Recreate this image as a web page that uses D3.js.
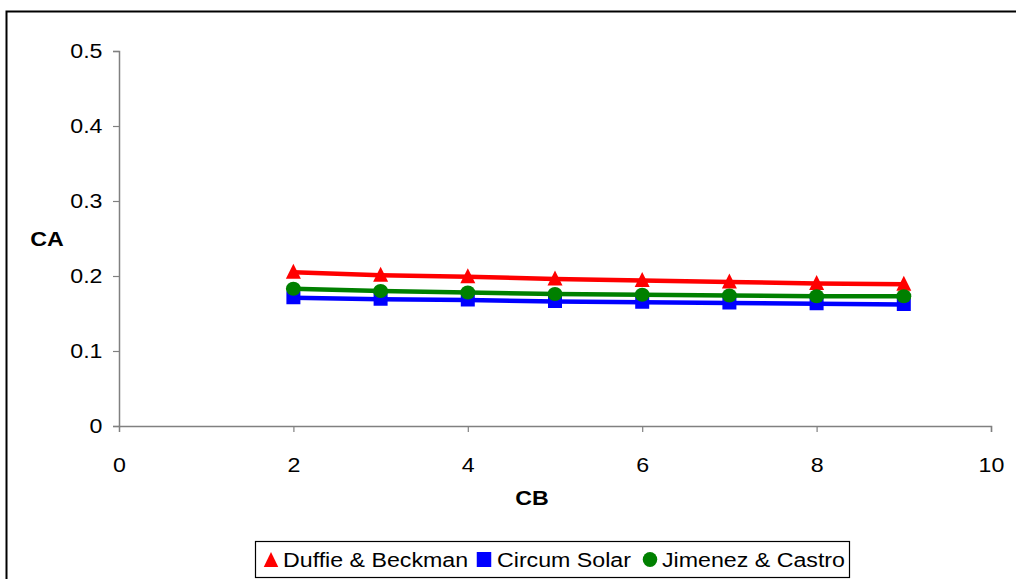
<!DOCTYPE html>
<html>
<head>
<meta charset="utf-8">
<script src="https://cdn.jsdelivr.net/npm/d3@7/dist/d3.min.js"></script>
<style>
  html, body { margin: 0; padding: 0; background: #fff; }
  svg { display: block; }
  text { font-family: "Liberation Sans", Arial, sans-serif; }
</style>
</head>
<body>
<svg id="chart" width="1016" height="579"></svg>
<script>
// Series values along CB = 2..9
const cbValues = [2, 3, 4, 5, 6, 7, 8, 9];
const duffieBeckman = [0.205, 0.201, 0.199, 0.196, 0.194, 0.192, 0.190, 0.189];
const circumSolar   = [0.171, 0.169, 0.168, 0.166, 0.165, 0.164, 0.163, 0.162];
const jimenezCastro = [0.183, 0.180, 0.178, 0.176, 0.175, 0.174, 0.173, 0.173];

const xTicks = [0, 2, 4, 6, 8, 10];
const yTicks = [0, 0.1, 0.2, 0.3, 0.4, 0.5];

const seriesNames = ["Duffie & Beckman", "Circum Solar", "Jimenez & Castro"];
const seriesColors = ["#ff0000", "#0000ff", "#008000"];
const seriesShapes = ["triangle", "square", "circle"];
const seriesValues = [duffieBeckman, circumSolar, jimenezCastro];

// the whole chart is drawn slightly wider than tall, text included
const stretch = 1.16;

const svg = d3.select("#chart");

// outer frame
svg.append("rect")
  .attr("x", 6.5).attr("y", 11.5)
  .attr("width", 1100).attr("height", 700)
  .attr("fill", "none").attr("stroke", "#000").attr("stroke-width", 2);

const plot = { left: 119, right: 991, top: 51, bottom: 426 };

const x = d3.scaleLinear().domain([0, 10]).range([plot.left, plot.right]);
const y = d3.scaleLinear().domain([0, 0.5]).range([plot.bottom, plot.top]);

// axes
const xAxis = svg.append("g")
  .attr("transform", `translate(0,${plot.bottom})`)
  .call(d3.axisBottom(x).tickValues(xTicks).tickFormat(d3.format("d")).tickSize(6).tickPadding(26));
const yAxis = svg.append("g")
  .attr("transform", `translate(${plot.left},0)`)
  .call(d3.axisLeft(y).tickValues(yTicks).tickFormat(d => d === 0 ? "0" : d3.format(".1f")(d)).tickSize(6).tickPadding(8));

[xAxis, yAxis].forEach(g => {
  g.select(".domain").attr("stroke", "#808080").attr("stroke-width", 1.5);
  g.selectAll(".tick line").attr("stroke", "#808080").attr("stroke-width", 1.2);
  g.selectAll(".tick text")
    .attr("fill", "#000")
    .style("font-family", "'Liberation Sans', Arial, sans-serif")
    .style("font-size", "20px");
});
xAxis.selectAll(".tick text").attr("transform", `scale(${stretch},1)`);
yAxis.selectAll(".tick text")
  .attr("x", -16.5 / stretch)
  .attr("transform", `scale(${stretch},1)`);
xAxis.selectAll(".tick").filter(d => d === 0).select("line").remove();

// axis titles
function stretchedText(parent, cx, cy, str, anchor, bold) {
  return parent.append("text")
    .attr("transform", `translate(${cx},${cy}) scale(${stretch},1)`)
    .attr("text-anchor", anchor)
    .style("font-size", "20px")
    .style("font-weight", bold ? "bold" : "normal")
    .text(str);
}
stretchedText(svg, 47, 246, "CA", "middle", true);
stretchedText(svg, 532, 505, "CB", "middle", true);

// marker outlines, width w and height h, centred on the point
function markerPath(shape, w, h) {
  const p = d3.path();
  if (shape === "triangle") {
    p.moveTo(0, -h / 2); p.lineTo(w / 2, h / 2); p.lineTo(-w / 2, h / 2); p.closePath();
  } else if (shape === "square") {
    p.rect(-w / 2, -h / 2, w, h);
  } else {
    return `M${-w / 2},0A${w / 2},${h / 2} 0 1,0 ${w / 2},0A${w / 2},${h / 2} 0 1,0 ${-w / 2},0Z`;
  }
  return p.toString();
}
const markerSize = {
  triangle: [15, 15],
  square: [14, 13],
  circle: [15, 14]
};

const line = d3.line().x((d, i) => x(cbValues[i])).y(d => y(d));

seriesValues.forEach((vals, s) => {
  const g = svg.append("g");
  const shape = seriesShapes[s];
  g.append("path")
    .datum(vals)
    .attr("d", line)
    .attr("fill", "none")
    .attr("stroke", seriesColors[s])
    .attr("stroke-width", 4.5);
  g.selectAll("path.marker")
    .data(vals)
    .join("path")
    .attr("class", "marker")
    .attr("transform", (d, i) => `translate(${x(cbValues[i])},${y(d) - (shape === "triangle" ? 1 : 0)})`)
    .attr("d", markerPath(shape, markerSize[shape][0], markerSize[shape][1]))
    .attr("fill", seriesColors[s]);
});

// legend
const legend = svg.append("g");
legend.append("rect")
  .attr("x", 255.5).attr("y", 541.5)
  .attr("width", 594).attr("height", 36)
  .attr("fill", "#fff").attr("stroke", "#000").attr("stroke-width", 1.2);

const legendItems = [
  { mx: 271, tx: 283 },
  { mx: 484, tx: 497 },
  { mx: 650, tx: 662 }
];
legendItems.forEach((it, s) => {
  const shape = seriesShapes[s];
  legend.append("path")
    .attr("transform", `translate(${it.mx},559.5)`)
    .attr("d", markerPath(shape, 14.5, 15))
    .attr("fill", seriesColors[s]);
  stretchedText(legend, it.tx, 566.5, seriesNames[s], "start", false);
});
</script>
</body>
</html>
